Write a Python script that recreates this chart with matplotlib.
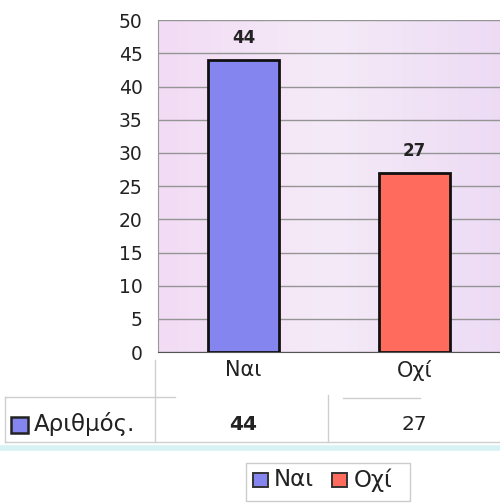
import numpy as np
import matplotlib.pyplot as plt
from matplotlib.patches import Rectangle
from matplotlib.lines import Line2D

plt.rcParams['font.family'] = ['DejaVu Sans']

categories = ['Ναι', 'Οχί']
values = [44, 27]
series_name = 'Αριθμός.'
bar_colors = ['#8585f0', '#ff6b5c']
y_ticks = list(range(0, 55, 5))

fig = plt.figure(figsize=(5.0, 5.03), dpi=100)
ax = fig.add_axes([0.316, 0.300, 0.684, 0.660])

# soft pink/lavender wall behind the bars
grad = np.linspace(0, 1, 256)
c0 = np.array([0.95, 0.86, 0.96])
c1 = np.array([0.96, 0.92, 0.97])
c2 = np.array([0.93, 0.86, 0.96])
rgb = np.where(grad[:, None] < 0.5,
               c0 + (c1 - c0) * (grad[:, None] / 0.5),
               c1 + (c2 - c1) * ((grad[:, None] - 0.5) / 0.5))
ax.imshow(rgb[None, :, :], extent=[-0.5, 1.5, 0, 50], aspect='auto', zorder=0)

x = np.arange(len(categories))
bars = ax.bar(x, values, width=0.41, color=bar_colors, edgecolor='#111111',
              linewidth=2.0, zorder=3)
for xi, v in zip(x, values):
    ax.text(xi, v + 2.0, str(v), ha='center', va='bottom', fontsize=12,
            fontweight='bold', color='#222222', zorder=4)

ax.set_xlim(-0.5, 1.5)
ax.set_ylim(0, 50)
ax.set_yticks(y_ticks)
ax.set_yticklabels([str(t) for t in y_ticks], fontsize=13.5, color='#222222')
ax.yaxis.grid(True, color='#959595', linewidth=1.0, zorder=1)
ax.set_axisbelow(True)
ax.set_xticks(x)
ax.set_xticklabels(categories, fontsize=15, color='#222222')
ax.tick_params(axis='y', length=0, pad=11)
ax.tick_params(axis='x', length=0, pad=6)
for side in ['top', 'right']:
    ax.spines[side].set_visible(False)
ax.spines['left'].set_color('#999999')
ax.spines['bottom'].set_color('#555555')

# data table under the axis
H, W = 503.0, 500.0
def fx(px):
    return px / W
def fy(py):
    return 1 - py / H

grey = '#cfcfcf'
for (x0, y0, x1, y1) in [(5, 397, 175, 397), (5, 442, 500, 442),
                         (5, 397, 5, 442), (155, 360, 155, 442),
                         (328, 395, 328, 442), (343, 398, 420, 398)]:
    fig.add_artist(Line2D([fx(x0), fx(x1)], [fy(y0), fy(y1)], color=grey, lw=1))
fig.add_artist(Line2D([0, 1], [fy(448), fy(448)], color='#d6f2f4', lw=4))

fig.add_artist(Rectangle((fx(11), fy(433)), fx(17), fy(417) - fy(433),
                         facecolor=bar_colors[0], edgecolor='#222222', lw=1.8))
fig.text(fx(34), fy(424), series_name, fontsize=16.5, va='center', ha='left', color='#222222')
for xi, v in zip(x, values):
    px = ax.transData.transform((xi, 0))[0] / fig.dpi / fig.get_figwidth()
    fig.text(px, fy(424), str(v), fontsize=14.5, va='center', ha='center',
             fontweight='bold' if xi == 0 else 'normal', color='#222222')

# legend
fig.add_artist(Rectangle((fx(246), fy(501)), fx(164), fy(463) - fy(501),
                         facecolor='white', edgecolor='#cccccc', lw=1))
leg_x = [253, 332]
text_x = [274, 354]
for i, name in enumerate(categories):
    fig.add_artist(Rectangle((fx(leg_x[i]), fy(487)), fx(15), fy(473) - fy(487),
                             facecolor=bar_colors[i], edgecolor='#333333', lw=1.4))
    fig.text(fx(text_x[i]), fy(480), name, fontsize=16.5, va='center', ha='left',
             color='#222222')

fig.savefig('out.png', dpi=100)
